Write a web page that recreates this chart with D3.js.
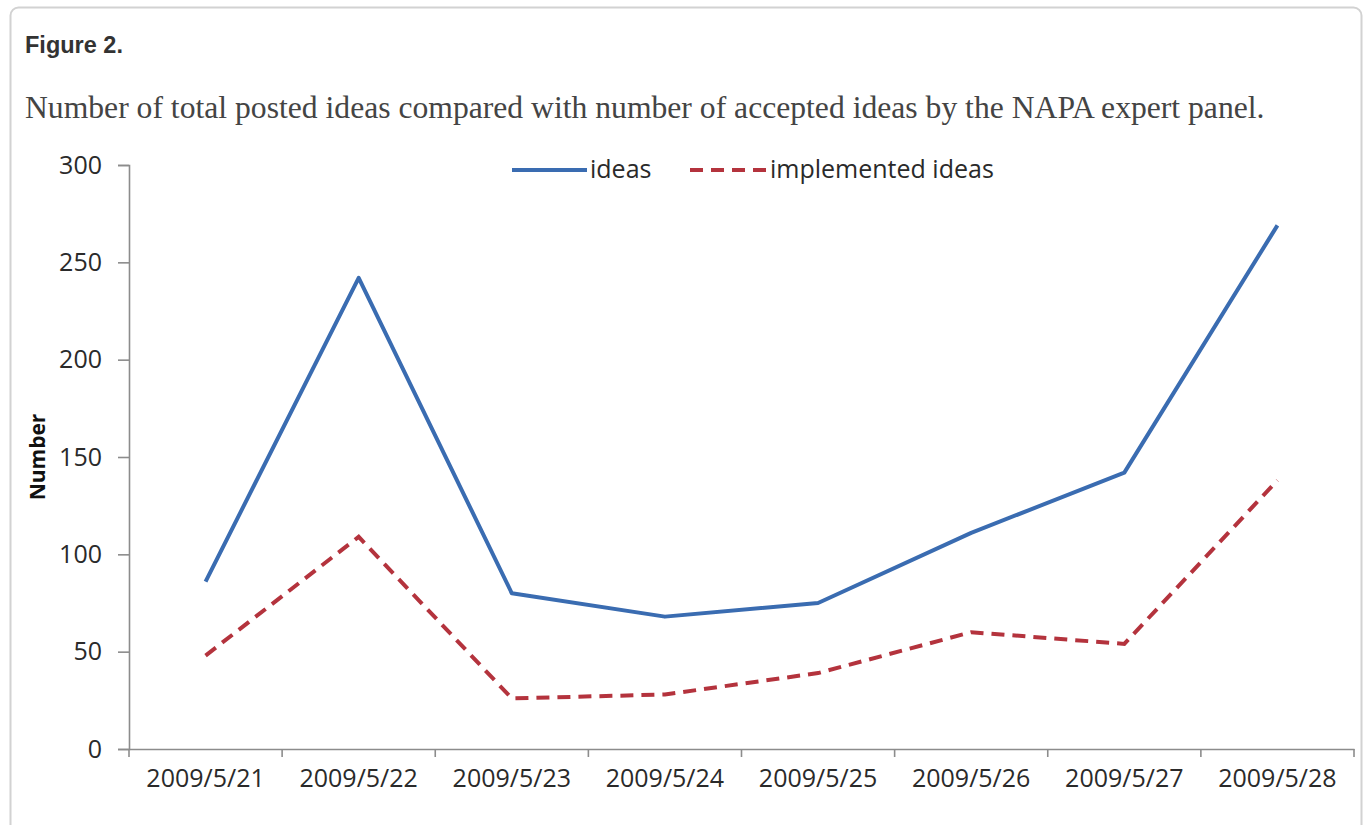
<!DOCTYPE html>
<html>
<head>
<meta charset="utf-8">
<script src="https://cdn.jsdelivr.net/npm/d3@7/dist/d3.min.js"></script>
<style>
    body { margin: 0; background: #fff; }
    .tick-label { font-family: 'Open Sans', sans-serif; font-size: 25px; fill: #2a2a2a; }
</style>
</head>
<body>
<div id="vis"></div>
<script>
'use strict';

//data
var dates = ['2009/5/21', '2009/5/22', '2009/5/23', '2009/5/24', '2009/5/25', '2009/5/26', '2009/5/27', '2009/5/28'];
var ideas = [86, 242, 80, 68, 75, 111, 142, 269];
var implemented = [48, 109, 26, 28, 39, 60, 54, 138];
var yTicks = [0, 50, 100, 150, 200, 250, 300];
var seriesNames = ['ideas', 'implemented ideas'];

var figureTitle = 'Figure 2.';
var caption = 'Number of total posted ideas compared with number of accepted ideas by the NAPA expert panel.';

//layout
var W = 1369, H = 825;
var plot = { left: 129, right: 1354, top: 165, bottom: 749 };
var blue = '#3a6cb1', red = '#b4333d', axisColor = '#8c8c8c';

var svg = d3.select('#vis')
    .append('svg')
    .attr('width', W)
    .attr('height', H)
    .style('display', 'block');

//card frame
svg.append('rect')
    .attr('x', 10.5)
    .attr('y', 7.5)
    .attr('width', 1351)
    .attr('height', 900)
    .attr('rx', 8)
    .style('fill', '#fff')
    .style('stroke', '#d2d2d2')
    .style('stroke-width', 2);

//shrink/grow a text so it fills a given width
function fitWidth(sel, width) {
    var size = parseFloat(sel.style('font-size'));
    var w = sel.node().getComputedTextLength();
    sel.style('font-size', (size * width / w) + 'px');
}

var title = svg.append('text')
    .attr('x', 25)
    .attr('y', 53)
    .text(figureTitle)
    .style('font-family', "'Liberation Sans', Arial, sans-serif")
    .style('font-weight', 'bold')
    .style('font-size', '22px')
    .style('fill', '#333');
fitWidth(title, 98);

var cap = svg.append('text')
    .attr('x', 25)
    .attr('y', 118)
    .text(caption)
    .style('font-family', "'Liberation Serif', serif")
    .style('font-size', '28px')
    .style('fill', '#444');
fitWidth(cap, 1240);

//scales
var x = d3.scaleBand().domain(dates).range([plot.left, plot.right]);
var y = d3.scaleLinear().domain([0, 300]).range([plot.bottom, plot.top]);

//y axis
var yAxis = svg.append('g')
    .attr('transform', 'translate(' + plot.left + ', 0)')
    .call(d3.axisLeft(y).tickValues(yTicks).tickSize(11).tickPadding(16));
yAxis.selectAll('text').attr('class', 'tick-label').attr('font-size', null).attr('font-family', null);

//x axis, labels centred in bands, ticks on band edges
var xAxis = svg.append('g')
    .attr('transform', 'translate(0, ' + plot.bottom + ')')
    .call(d3.axisBottom(x).tickSize(0).tickPadding(20).tickSizeOuter(0));
xAxis.selectAll('text').attr('class', 'tick-label').attr('font-size', null).attr('font-family', null);
xAxis.selectAll('.edge-tick')
    .data(dates.map(function (d) { return x(d); }).concat([plot.right]))
    .enter()
    .append('line')
    .attr('class', 'edge-tick')
    .attr('x1', function (d) { return d; })
    .attr('x2', function (d) { return d; })
    .attr('y2', 8);

svg.selectAll('.domain, .tick line, .edge-tick')
    .style('stroke', axisColor)
    .style('stroke-width', 1.6);

//y axis title
svg.append('text')
    .attr('transform', 'translate(45, ' + y(150) + ') rotate(-90)')
    .attr('text-anchor', 'middle')
    .text('Number')
    .style('font-family', "'Open Sans', sans-serif")
    .style('font-weight', 'bold')
    .style('font-size', '21px')
    .style('fill', '#111');

//lines
var line = d3.line()
    .x(function (d, i) { return x(dates[i]) + x.bandwidth() / 2; })
    .y(function (d) { return y(d); });

svg.append('path')
    .datum(ideas)
    .attr('d', line)
    .style('fill', 'none')
    .style('stroke', blue)
    .style('stroke-width', 4)
    .style('stroke-linejoin', 'round');

svg.append('path')
    .datum(implemented)
    .attr('d', line)
    .style('fill', 'none')
    .style('stroke', red)
    .style('stroke-width', 4)
    .style('stroke-dasharray', '13,8');

//legend
var legend = svg.append('g').attr('transform', 'translate(0, 170)');
legend.append('line')
    .attr('x1', 512).attr('x2', 587)
    .style('stroke', blue).style('stroke-width', 4);
legend.append('text')
    .attr('x', 590).attr('y', 8)
    .text(seriesNames[0])
    .attr('class', 'tick-label');
legend.append('line')
    .attr('x1', 690).attr('x2', 767)
    .style('stroke', red).style('stroke-width', 4)
    .style('stroke-dasharray', '13,8');
legend.append('text')
    .attr('x', 770).attr('y', 8)
    .text(seriesNames[1])
    .attr('class', 'tick-label');
</script>
</body>
</html>
